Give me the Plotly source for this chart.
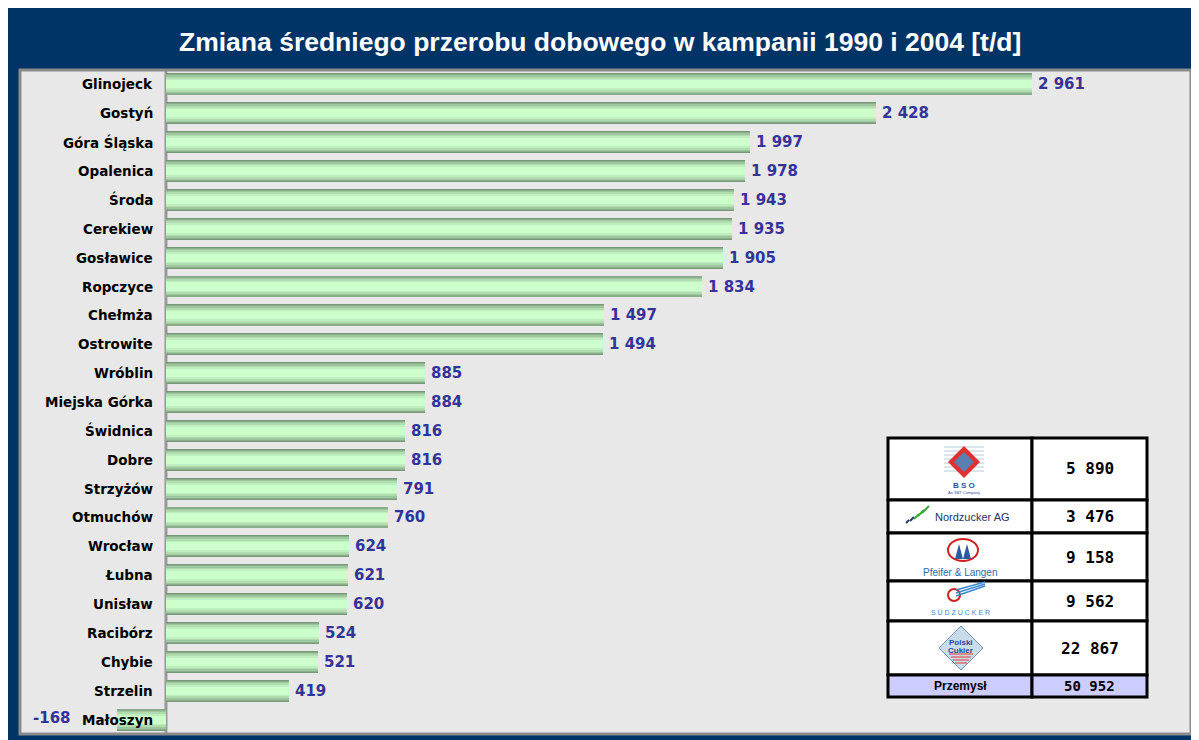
import plotly.graph_objects as go

categories = ["Glinojeck", "Gostyń", "Góra Śląska", "Opalenica", "Środa", "Cerekiew",
              "Gosławice", "Ropczyce", "Chełmża", "Ostrowite", "Wróblin", "Miejska Górka",
              "Świdnica", "Dobre", "Strzyżów", "Otmuchów", "Wrocław", "Łubna", "Unisław",
              "Racibórz", "Chybie", "Strzelin", "Małoszyn"]
values = [2961, 2428, 1997, 1978, 1943, 1935, 1905, 1834, 1497, 1494, 885, 884,
          816, 816, 791, 760, 624, 621, 620, 524, 521, 419, -168]

table_companies = ["BSO", "Nordzucker AG", "Pfeifer & Langen", "SÜDZUCKER", "Polski Cukier", "Przemysł"]
table_values = [5890, 3476, 9158, 9562, 22867, 50952]

def fmt(v):
    return f"{v:,}".replace(",", " ")

# geometry (screen pixels of the page; page body offsets figure by O px)
O = 8
W, H = 1199 - O, 740 - O
L, R, T, B = 20, 1191, 70, 734  # plot area in screen px
def px(x):
    return (x - L) / (R - L)
def py(y):
    return (B - y) / (B - T)

fig = go.Figure()

# gradient bars: stacked overlay layers
layers = [(0.76, "#789878"), (0.70, "#8AAE8A"), (0.62, "#9EC69E"),
          (0.52, "#B0DCB0"), (0.40, "#C0EEC0"), (0.28, "#CCFFCC")]
for w, c in layers:
    fig.add_trace(go.Bar(x=values, y=categories, orientation="h", width=w,
                         marker=dict(color=c, line=dict(width=0)),
                         hoverinfo="skip", showlegend=False))

annotations = []
for cat, v in zip(categories, values):
    annotations.append(dict(x=0, y=cat, xref="x", yref="y", text="<b>" + cat + "</b>", showarrow=False,
                            xanchor="right", yanchor="middle", xshift=-11,
                            font=dict(family="DejaVu Sans", size=13.5, color="#000000")))
    if v >= 0:
        annotations.append(dict(x=v, y=cat, xref="x", yref="y", text="<b>" + fmt(v) + "</b>",
                                showarrow=False, xanchor="left", yanchor="middle", xshift=4,
                                font=dict(family="DejaVu Sans", size=15, color="#333399")))
    else:
        annotations.append(dict(x=v, y=cat, xref="x", yref="y", text="<b>" + fmt(v) + "</b>",
                                showarrow=False, xanchor="right", yanchor="middle", xshift=-44, yshift=2,
                                font=dict(family="DejaVu Sans", size=15, color="#333399")))

def ann(x, y, text, size, color, family="Liberation Sans", bold=False):
    annotations.append(dict(x=px(x), y=py(y), xref="paper", yref="paper",
                            xanchor="center", yanchor="middle",
                            text=("<b>" + text + "</b>") if bold else text, showarrow=False,
                            font=dict(family=family, size=size, color=color)))

# title
ann(600, 42, "Zmiana średniego przerobu dobowego w kampanii 1990 i 2004 [t/d]", 26.5, "#FFFFFF", bold=True)

shapes = []
# plot border
shapes.append(dict(type="rect", xref="paper", yref="paper", x0=0, x1=1, y0=0, y1=1,
                   line=dict(color="#8C8C8C", width=3), layer="above"))
# zero line / label panel border
shapes.append(dict(type="line", xref="x", yref="paper", x0=0, x1=0, y0=0, y1=1,
                   line=dict(color="#999999", width=3), layer="below"))

# table
rows = [438, 500, 533, 581, 621, 675, 697]
cx0, cx1, cx2 = 888, 1032, 1147
for i in range(6):
    fill = "#CCCCFF" if i == 5 else "#FFFFFF"
    for a0, a1 in ((cx0, cx1), (cx1, cx2)):
        shapes.append(dict(type="rect", xref="paper", yref="paper",
                           x0=px(a0), x1=px(a1), y0=py(rows[i + 1]), y1=py(rows[i]),
                           fillcolor=fill, line=dict(color="#000000", width=3), layer="above"))
    ymid = (rows[i] + rows[i + 1]) / 2
    ann((cx1 + cx2) / 2, ymid, fmt(table_values[i]), 16 if i < 5 else 14, "#000000",
        family="DejaVu Sans Mono", bold=True)

def path_shape(pts, fill, line_color=None, lw=0):
    d = "M " + " L ".join(f"{px(a)},{py(b)}" for a, b in pts) + " Z"
    shapes.append(dict(type="path", xref="paper", yref="paper", path=d, fillcolor=fill,
                       line=dict(color=line_color or fill, width=lw), layer="above"))

def line_shape(x0, y0, x1, y1, color, w):
    shapes.append(dict(type="line", xref="paper", yref="paper", x0=px(x0), x1=px(x1),
                       y0=py(y0), y1=py(y1), line=dict(color=color, width=w), layer="above"))

# BSO
for k in range(7):
    yy = 447 + k * 4
    line_shape(944, yy, 984, yy, "#B8C8DC", 1)
path_shape([(964, 446), (980, 462), (964, 478), (948, 462)], "#E03030")
path_shape([(964, 452), (974, 462), (964, 472), (954, 462)], "#5A7FB0")
ann(964, 485, "B S O", 8, "#3050A0", bold=True)
ann(964, 493, "An SBT Company", 4, "#3050A0")
# Nordzucker
for k, (a, b) in enumerate([(906, 523), (910, 521), (914, 519), (918, 516), (922, 513)]):
    line_shape(a, b, a + 3 + k, b - 3 - k, "#33AA33" if k > 1 else "#223366", 2)
ann(972, 517, "Nordzucker AG", 11, "#223366")
# Pfeifer & Langen
shapes.append(dict(type="circle", xref="paper", yref="paper", x0=px(948), x1=px(978),
                   y0=py(561), y1=py(539), line=dict(color="#D02020", width=2), layer="above"))
path_shape([(955, 559), (959, 544), (963, 559)], "#2A5AA0")
path_shape([(963, 559), (967, 544), (971, 559)], "#2A5AA0")
ann(961, 572, "Pfeifer &amp; Langen", 10, "#2A6AAA")
# Südzucker
shapes.append(dict(type="circle", xref="paper", yref="paper", x0=px(948), x1=px(960),
                   y0=py(601), y1=py(589), line=dict(color="#D02020", width=2), layer="above"))
for k in range(3):
    line_shape(956, 596 - k * 3, 985, 586 - k * 2, "#3A8AD0", 1.5)
ann(960, 612, "S Ü D Z U C K E R", 7, "#3A8AD0")
# Polski Cukier
path_shape([(961, 626), (983, 648), (961, 670), (939, 648)], "#C8DCEC", "#7090B0", 1)
for k in range(4):
    yy = 654 + k * 3
    line_shape(949 + k * 2, yy, 973 - k * 2, yy, "#E07070", 1.5)
ann(961, 642, "Polski", 8, "#2A4A9A", bold=True)
ann(961, 650, "Cukier", 8, "#2A4A9A", bold=True)
# Przemysł
ann(960, 686, "Przemysł", 12, "#000000", bold=True)

fig.update_layout(
    width=W, height=H,
    margin=dict(l=L - O, r=1199 - R, t=T - O, b=740 - B, pad=0),
    paper_bgcolor="#003366",
    plot_bgcolor="#E8E8E8",
    barmode="overlay",
    bargap=0,
    showlegend=False,
    xaxis=dict(range=[-499, 3504], showgrid=False, zeroline=False, showticklabels=False,
               ticks="", fixedrange=True),
    yaxis=dict(autorange="reversed", showgrid=False, zeroline=False, showticklabels=False,
               ticks="", fixedrange=True),
    annotations=annotations,
    shapes=shapes,
)

fig.write_html("out.html")
